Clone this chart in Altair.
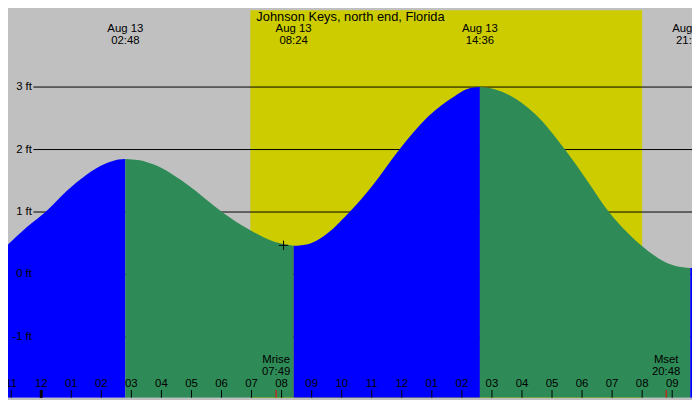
import pandas as pd
import altair as alt

# hours after midnight on Aug 13, tide height in feet
rise1_h = [-1.106, -0.455, 0.195, 0.846, 1.496, 2.146, 2.569, 2.8]
rise1_ft = [0.482, 0.767, 1.025, 1.335, 1.594, 1.775, 1.842, 1.85]
fall1_h = [2.8, 3.28, 3.772, 4.846, 6.049, 6.917, 7.782, 8.4]
fall1_ft = [1.85, 1.83, 1.755, 1.445, 0.99, 0.72, 0.52, 0.46]
rise2_h = [8.4, 8.91, 9.408, 10.221, 11.034, 11.902, 12.878, 13.746, 14.18, 14.6]
rise2_ft = [0.46, 0.49, 0.615, 0.98, 1.43, 1.99, 2.53, 2.85, 2.97, 3.0]
fall2_h = [14.6, 15.09, 15.587, 16.455, 17.431, 18.189, 18.894, 19.489, 20.033, 20.576, 21.115, 21.6]
fall2_ft = [3.0, 2.966, 2.87, 2.56, 2.0, 1.49, 1.0, 0.68, 0.44, 0.25, 0.136, 0.105]
rise3_h = [21.6, 21.66]
rise3_ft = [0.105, 0.106]

tide_h = [2.8, 8.4, 14.6, 21.6]
tide_date = ["Aug 13", "Aug 13", "Aug 13", "Aug 13"]
tide_time = ["02:48", "08:24", "14:36", "21:36"]

sunrise_h = 6.96
sunset_h = 20.0

moon_h = [7.817, 20.8]
moon_name = ["Mrise", "Mset"]
moon_time = ["07:49", "20:48"]

grid_ft = [-1, 0, 1, 2, 3]
grid_label = ["-1 ft", "0 ft", "1 ft", "2 ft", "3 ft"]

hour_h = list(range(-1, 22))
hour_label = ["%02d" % ((h % 12) or 12) for h in hour_h]

now_h = 8.065
now_ft = 0.467

title = "Johnson Keys, north end, Florida"

W, H = 692, 392
k = H / 400.0
FONT = "Liberation Sans"
FS = 11.5

xs = alt.Scale(domain=[-1.106, 21.659], nice=False, zero=False)
ys = alt.Scale(domain=[-1.972, 4.229], nice=False, zero=False)
X = alt.X("h:Q", scale=xs, axis=None)
Y = alt.Y("ft:Q", scale=ys, axis=None)

segs = [("r1", "rising", rise1_h, rise1_ft), ("f1", "falling", fall1_h, fall1_ft),
        ("r2", "rising", rise2_h, rise2_ft), ("f2", "falling", fall2_h, fall2_ft),
        ("r3", "rising", rise3_h, rise3_ft)]
curve = pd.concat([pd.DataFrame({"h": hh, "ft": ff, "seg": s, "dir": d})
                   for s, d, hh, ff in segs])

day = alt.Chart(pd.DataFrame({"h": [sunrise_h], "h2": [sunset_h]})).mark_rect(
    color="#cccc00"
).encode(x=X, x2="h2:Q", y=alt.value(0), y2=alt.value(H))

grid_df = pd.DataFrame({"ft": grid_ft, "label": grid_label})
grid = alt.Chart(grid_df).mark_rule(color="black", strokeWidth=1).encode(
    y=Y, x=alt.value(26 * W / 700), x2=alt.value(W)
)

area = alt.Chart(curve).mark_area(interpolate="monotone", clip=True).encode(
    x=X,
    y=alt.Y("ft:Q", scale=ys, axis=None, stack=None),
    y2=alt.value(H),
    color=alt.Color("dir:N", legend=None,
                    scale=alt.Scale(domain=["rising", "falling"], range=["#0000ff", "#2e8b57"])),
    detail="seg:N",
)

ft_text = alt.Chart(grid_df).mark_text(
    align="right", baseline="middle", font=FONT, fontSize=FS, color="black"
).encode(y=Y, x=alt.value(24.5 * W / 700), text="label:N")

tide_df = pd.DataFrame({"h": tide_h, "date": tide_date, "time": tide_time})
tide_date_text = alt.Chart(tide_df).mark_text(
    baseline="middle", font=FONT, fontSize=FS, color="black"
).encode(x=X, y=alt.value(19.5 * k), text="date:N")
tide_time_text = alt.Chart(tide_df).mark_text(
    baseline="middle", font=FONT, fontSize=FS, color="black"
).encode(x=X, y=alt.value(31.5 * k), text="time:N")

title_text = alt.Chart(pd.DataFrame({"t": [title]})).mark_text(
    baseline="middle", font=FONT, fontSize=13, color="black"
).encode(x=alt.value(W / 2 + 0.5), y=alt.value(6.5 * k), text="t:N")

hour_df = pd.DataFrame({"h": hour_h, "label": hour_label})
ticks = alt.Chart(hour_df).mark_rule(color="black", strokeWidth=1).encode(
    x=X, y=alt.value(392 * k), y2=alt.value(H)
)
midnight = alt.Chart(pd.DataFrame({"h": [0]})).mark_rule(color="black", strokeWidth=3).encode(
    x=X, y=alt.value(392 * k), y2=alt.value(H)
)
hour_text = alt.Chart(hour_df).mark_text(
    baseline="middle", font=FONT, fontSize=FS, color="black"
).encode(x=X, y=alt.value(385.5 * k), text="label:N")

moon_df = pd.DataFrame({"h": moon_h, "name": moon_name, "time": moon_time})
moon_ticks = alt.Chart(moon_df).mark_rule(color="#ff0000", strokeWidth=1).encode(
    x=X, y=alt.value(392 * k), y2=alt.value(H)
)
moon_name_text = alt.Chart(moon_df).mark_text(
    baseline="middle", font=FONT, fontSize=FS, color="black"
).encode(x=X, y=alt.value(361 * k), text="name:N")
moon_time_text = alt.Chart(moon_df).mark_text(
    baseline="middle", font=FONT, fontSize=FS, color="black"
).encode(x=X, y=alt.value(373 * k), text="time:N")

now = alt.Chart(pd.DataFrame({"h": [now_h], "ft": [now_ft]})).mark_point(
    shape="M-1,0L1,0M0,-1L0,1", size=90, filled=False, color="black", strokeWidth=1, opacity=1
).encode(x=X, y=Y)

chart = alt.layer(
    day, grid, area, ft_text, tide_date_text, tide_time_text, title_text,
    ticks, midnight, moon_ticks, hour_text, moon_name_text, moon_time_text, now
).properties(
    width=W, height=H, padding=0, background="#c0c0c0",
    autosize=alt.AutoSizeParams(type="none"),
).configure_view(strokeWidth=0, fill="#c0c0c0")

chart.save("out.html", embed_options={"renderer": "svg", "actions": False})
